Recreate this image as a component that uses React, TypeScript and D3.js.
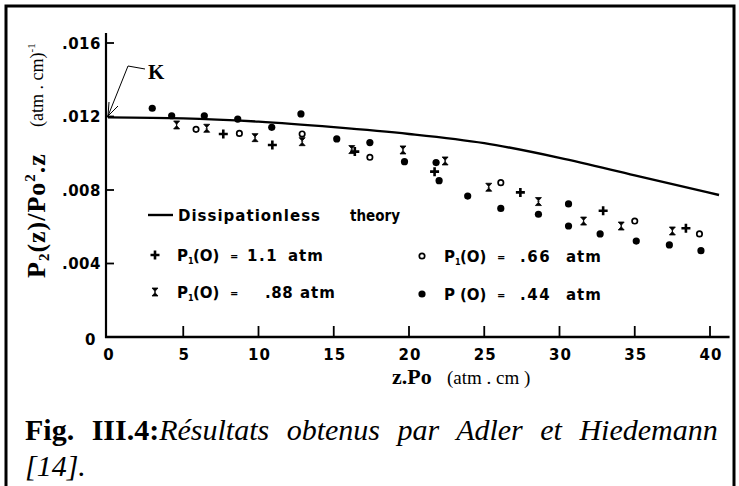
// @ts-nocheck
import * as d3 from "d3";
import { useEffect, useRef } from "react";

// dissipationless theory curve
const theoryZ = [0, 5, 10, 15, 20, 25, 30, 35, 40.6];
const theoryP = [0.01195, 0.0119, 0.01172, 0.01142, 0.01105, 0.01055, 0.00975, 0.0088, 0.00773];

// P1(0) = 1.1 atm  (+)
const plusZ = [7.66, 10.92, 16.4, 21.7, 27.4, 32.9, 38.4];
const plusP = [0.01105, 0.01045, 0.01009, 0.009, 0.00787, 0.00687, 0.00592];

// P1(0) = .88 atm  (x)
const crossZ = [4.56, 6.56, 9.77, 12.9, 16.2, 19.6, 22.4, 25.3, 28.6, 31.6, 34.1, 37.5];
const crossP = [0.01154, 0.01136, 0.01085, 0.01063, 0.0102, 0.01018, 0.00958, 0.00815, 0.00737, 0.00631, 0.00604, 0.00577];

// P1(0) = .66 atm  (open circle)
const openZ = [5.85, 8.73, 12.9, 17.4, 26.1, 35.0, 39.3];
const openP = [0.0113, 0.01108, 0.01105, 0.00978, 0.0084, 0.00631, 0.00561];

// P(0) = .44 atm  (filled dot)
const dotZ = [2.94, 4.23, 6.4, 8.62, 10.88, 12.82, 15.2, 17.4, 19.7, 21.8, 22.0, 23.9, 26.1, 28.6, 30.6, 30.6, 32.7, 35.1, 37.3, 39.4];
const dotP = [0.01245, 0.01204, 0.01204, 0.01186, 0.01141, 0.01214, 0.01078, 0.01058, 0.00954, 0.00949, 0.00851, 0.00767, 0.007, 0.00668, 0.00724, 0.00604, 0.00561, 0.00522, 0.00501, 0.0047];

const xTicks = [0, 5, 10, 15, 20, 25, 30, 35, 40];
const yTicks = [0, 0.004, 0.008, 0.012, 0.016];
const yTickLabels = ["0", ".004", ".008", ".012", ".016"];

const legendValues = ["1.1", ".88", ".66", ".44"];

const TICK_FONT = "'DejaVu Sans', Verdana, sans-serif";
const SERIF = "'Liberation Serif', 'Times New Roman', serif";

const App = () => {
    const ref = useRef(null);

    useEffect(() => {
        const svg = d3.select(ref.current);
        svg.selectAll("*").remove();

        const xScale = d3.scaleLinear().domain([0, 40]).range([108, 710]);
        const yScale = d3.scaleLinear().domain([0, 0.016]).range([337, 43]);

        // frame
        svg.append("rect")
            .attr("x", 6).attr("y", 6).attr("width", 728).attr("height", 484)
            .attr("fill", "none").attr("stroke", "#000").attr("stroke-width", 3);

        // axes lines
        svg.append("line").attr("x1", 106).attr("x2", 106).attr("y1", yScale(0) + 1).attr("y2", 33)
            .attr("stroke", "#000").attr("stroke-width", 2.2);
        svg.append("line").attr("x1", 105).attr("x2", xScale(41.3)).attr("y1", yScale(0)).attr("y2", yScale(0))
            .attr("stroke", "#000").attr("stroke-width", 2.4);

        // x ticks (inward)
        svg.selectAll(".xtick").data(xTicks.slice(1)).enter().append("line")
            .attr("x1", d => xScale(d)).attr("x2", d => xScale(d))
            .attr("y1", yScale(0)).attr("y2", yScale(0) - 11)
            .attr("stroke", "#000").attr("stroke-width", 1.8);
        svg.selectAll(".xlab").data(xTicks).enter().append("text")
            .attr("x", d => xScale(d) + 1).attr("y", 360)
            .attr("text-anchor", "middle")
            .attr("font-family", TICK_FONT).attr("font-weight", "bold").attr("font-size", 15)
            .attr("letter-spacing", 1)
            .text(d => d3.format("d")(d));

        // y ticks (inward)
        svg.selectAll(".ytick").data(yTicks.slice(1)).enter().append("line")
            .attr("x1", 106).attr("x2", 114)
            .attr("y1", d => yScale(d)).attr("y2", d => yScale(d))
            .attr("stroke", "#000").attr("stroke-width", 1.8);
        svg.selectAll(".ylab").data(yTicks).enter().append("text")
            .attr("x", (d, i) => i === 0 ? 96 : 101)
            .attr("y", (d, i) => yScale(d) + (i === 0 ? 8 : 5.5))
            .attr("text-anchor", "end")
            .attr("font-family", TICK_FONT).attr("font-weight", "bold").attr("font-size", 15)
            .attr("letter-spacing", 0.5)
            .text((d, i) => yTickLabels[i]);

        // theory curve
        const line = d3.line().x(d => xScale(d[0])).y(d => yScale(d[1])).curve(d3.curveMonotoneX);
        svg.append("path")
            .attr("d", line(theoryZ.map((z, i) => [z, theoryP[i]])))
            .attr("fill", "none").attr("stroke", "#000").attr("stroke-width", 2.4);

        // marker helpers
        const plusPath = "M-4.5,0H4.5M0,-4.5V4.5";
        const crossPath = "M-3,-4H3L-0.6,0L3,4H-3L0.6,0Z";
        const drawPlus = (g, x, y) => g.append("path").attr("d", plusPath)
            .attr("transform", `translate(${x},${y})`).attr("stroke", "#000").attr("stroke-width", 2.6).attr("fill", "none");
        const drawCross = (g, x, y) => g.append("path").attr("d", crossPath)
            .attr("transform", `translate(${x},${y})`).attr("fill", "#000").attr("stroke", "#000").attr("stroke-width", 0.8);
        const drawOpen = (g, x, y) => g.append("circle").attr("cx", x).attr("cy", y).attr("r", 2.7)
            .attr("fill", "#fff").attr("stroke", "#000").attr("stroke-width", 1.7);
        const drawDot = (g, x, y) => g.append("circle").attr("cx", x).attr("cy", y).attr("r", 3.6).attr("fill", "#000");

        const pts = svg.append("g");
        dotZ.forEach((z, i) => drawDot(pts, xScale(z), yScale(dotP[i])));
        crossZ.forEach((z, i) => drawCross(pts, xScale(z), yScale(crossP[i])));
        plusZ.forEach((z, i) => drawPlus(pts, xScale(z), yScale(plusP[i])));
        openZ.forEach((z, i) => drawOpen(pts, xScale(z), yScale(openP[i])));

        // legend
        const lg = svg.append("g")
            .attr("font-family", TICK_FONT).attr("font-weight", "bold").attr("font-size", 15);
        lg.append("line").attr("x1", 148).attr("x2", 173).attr("y1", 215).attr("y2", 215)
            .attr("stroke", "#000").attr("stroke-width", 2.4);
        lg.append("text").attr("x", 178).attr("y", 220.5).attr("textLength", 142).attr("lengthAdjust", "spacing")
            .text("Dissipationless");
        lg.append("text").attr("x", 350).attr("y", 220.5).attr("textLength", 50).attr("lengthAdjust", "spacingAndGlyphs")
            .text("theory");

        const legendRows = [
            { x: 155, y: 255, marker: drawPlus, sub: "1", valX: 247, atmX: 288 },
            { x: 155, y: 292, marker: drawCross, sub: "1", valX: 265, atmX: 300 },
            { x: 422, y: 256, marker: drawOpen, sub: "1", valX: 520, atmX: 566 },
            { x: 422, y: 294, marker: drawDot, sub: "", valX: 520, atmX: 566 },
        ];
        legendRows.forEach((r, i) => {
            r.marker(lg, r.x, r.y);
            const tx = r.x + 22;
            const by = r.y + 5.5;
            const t = lg.append("text").attr("x", tx).attr("y", by);
            t.append("tspan").text("P");
            if (r.sub) t.append("tspan").attr("font-size", 8).attr("dy", 3).text(r.sub);
            lg.append("text").attr("x", tx + 16).attr("y", by).text("(O)");
            lg.append("text").attr("x", tx + 53).attr("y", by - 1).attr("font-size", 10).text("=");
            lg.append("text").attr("x", r.valX).attr("y", by).attr("letter-spacing", i === 1 ? 0.5 : 1.5).text(legendValues[i]);
            lg.append("text").attr("x", r.atmX).attr("y", by).attr("letter-spacing", 1).text("atm");
        });

        // K annotation
        svg.append("text").attr("x", 148).attr("y", 79)
            .attr("font-family", SERIF).attr("font-weight", "bold").attr("font-size", 21).text("K");
        svg.append("polyline").attr("points", "145,69 128,66 108,116")
            .attr("fill", "none").attr("stroke", "#000").attr("stroke-width", 1);
        svg.append("polyline").attr("points", "109,102 108,116 118,106")
            .attr("fill", "none").attr("stroke", "#000").attr("stroke-width", 1);

        // y axis title
        const yt = svg.append("text").attr("transform", "translate(45,278) rotate(-90)")
            .attr("font-family", SERIF).attr("font-size", 26).attr("letter-spacing", 1);
        yt.append("tspan").attr("font-weight", "bold").text("P");
        yt.append("tspan").attr("font-weight", "bold").attr("font-size", 15).attr("dy", 4).text("2");
        yt.append("tspan").attr("font-weight", "bold").attr("dy", -4).text("(z)/Po");
        yt.append("tspan").attr("font-weight", "bold").attr("font-size", 15).attr("dy", -10).text("2");
        yt.append("tspan").attr("font-weight", "bold").attr("dy", 10).text(".z");
        const yt2 = svg.append("text").attr("transform", "translate(43,127) rotate(-90)")
            .attr("font-family", SERIF).attr("font-size", 18);
        yt2.append("tspan").text("(atm . cm)");
        yt2.append("tspan").attr("font-size", 11).attr("dy", -8).text("-1");

        // x axis title
        const xt = svg.append("text").attr("x", 392).attr("y", 384).attr("font-family", SERIF);
        xt.append("tspan").attr("font-weight", "bold").attr("font-size", 22).text("z.Po");
        xt.append("tspan").attr("x", 447).attr("font-size", 19).text("(atm . cm )");

        // caption
        const c1 = svg.append("text").attr("x", 25).attr("y", 440)
            .attr("font-family", SERIF).attr("font-size", 30).attr("word-spacing", 10);
        c1.append("tspan").attr("font-weight", "bold").text("Fig. III.4:");
        c1.append("tspan").attr("font-style", "italic").text("Résultats obtenus par Adler et Hiedemann");
        svg.append("text").attr("x", 25).attr("y", 476)
            .attr("font-family", SERIF).attr("font-size", 30).attr("font-style", "italic").text("[14].");
    }, []);

    return (
        <svg ref={ref} width={739} height={486}
            style={{ position: "absolute", left: 0, top: 0, background: "#fff" }} />
    );
};

export default App;
